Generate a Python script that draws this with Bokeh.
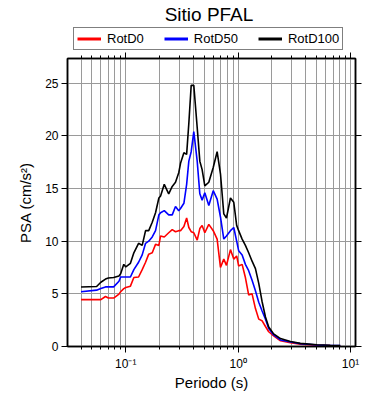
from bokeh.plotting import figure
from bokeh.layouts import column
from bokeh.models import (Range1d, LogAxis, LinearAxis, FixedTicker, Grid, Legend,
                          LegendItem, Label, CustomJSTickFormatter, ColumnDataSource)
from bokeh.embed import file_html
from bokeh.resources import INLINE

title_text = "Sitio PFAL"
x_label = "Periodo (s)"
y_label = "PSA (cm/s²)"
series_names = ["RotD0", "RotD50", "RotD100"]
series_colors = ["red", "blue", "black"]

periods = [0.040, 0.055, 0.060, 0.066, 0.070, 0.078, 0.087, 0.090, 0.096, 0.100,
           0.110, 0.118, 0.130, 0.140, 0.150, 0.160, 0.172, 0.184, 0.197, 0.204,
           0.220, 0.241, 0.259, 0.277, 0.296, 0.307, 0.329, 0.348, 0.364, 0.382,
           0.403, 0.432, 0.456, 0.478, 0.505, 0.548, 0.600, 0.650, 0.696, 0.745,
           0.787, 0.854, 0.914, 0.970, 1.010, 1.085, 1.160, 1.240, 1.330, 1.425,
           1.525, 1.630, 1.750, 1.870, 2.070, 2.380, 2.920, 3.570, 5.030, 6.600, 8.100]

rotd100 = [5.65, 5.7, 6.1, 6.4, 6.5, 6.55, 6.7, 6.9, 7.8, 7.55,
           7.9, 8.9, 9.8, 9.6, 11.0, 11.0, 11.8, 12.7, 14.1, 14.3,
           15.4, 14.5, 15.2, 15.6, 16.5, 17.4, 18.4, 18.25, 21.2, 24.8,
           24.8, 20.8, 17.6, 16.8, 15.25, 15.6, 17.0, 18.5, 16.4, 12.6,
           12.2, 14.1, 13.7, 11.5, 11.0, 10.2, 9.6, 8.9, 8.1, 7.4,
           6.0, 4.3, 2.8, 1.85, 1.2, 0.75, 0.47, 0.3, 0.16, 0.12, 0.1]

rotd50 = [5.2, 5.35, 5.5, 5.66, 5.66, 5.66, 6.2, 6.6, 6.6, 6.6,
          6.6, 7.3, 8.0, 8.7, 9.8, 10.0, 10.4, 11.0, 12.5, 12.7,
          12.9, 12.5, 12.5, 13.3, 12.9, 13.1, 13.6, 15.4, 17.6, 18.5,
          20.4, 17.6, 14.5, 13.9, 14.6, 13.4, 14.8, 14.0, 12.3, 10.2,
          10.5, 11.0, 11.3, 10.0, 9.1, 8.7, 7.8, 7.2, 6.3, 5.3,
          4.2, 3.4, 2.6, 1.7, 1.1, 0.62, 0.42, 0.27, 0.14, 0.1, 0.08]

rotd0 = [4.45, 4.45, 4.45, 4.75, 4.6, 4.6, 4.97, 5.2, 5.5, 5.6,
         5.73, 6.55, 6.6, 7.3, 8.0, 8.77, 8.9, 9.7, 9.6, 10.5,
         10.4, 10.8, 11.1, 10.9, 11.0, 11.0, 11.4, 12.2, 11.3, 10.9,
         10.8, 10.1, 11.2, 11.5, 10.8, 11.6, 11.0, 10.2, 7.5, 8.3,
         7.7, 9.2, 8.3, 8.6, 7.65, 7.8, 6.55, 4.9, 5.0, 3.6,
         2.6, 2.45, 1.9, 1.4, 1.0, 0.54, 0.35, 0.22, 0.12, 0.09, 0.07]

x_major = [0.1, 1, 10]
x_minor = [0.03, 0.04, 0.05, 0.06, 0.07, 0.08, 0.09,
           0.2, 0.3, 0.4, 0.5, 0.6, 0.7, 0.8, 0.9,
           2, 3, 4, 5, 6, 7, 8, 9]
y_ticks = [0, 5, 10, 15, 20, 25]

FONT = "Liberation Sans"
HEAD_H = 51
LEFT, RIGHT, FW, FH = 67, 35, 288, 288

# ---------- header: title + legend (frame coords = pixels) ----------
head = figure(frame_width=FW, frame_height=HEAD_H,
              x_range=Range1d(0, FW), y_range=Range1d(0, HEAD_H),
              x_axis_location=None, y_axis_location=None, title_location=None,
              min_border_left=LEFT, min_border_right=RIGHT, min_border_top=0, min_border_bottom=0,
              output_backend="svg", toolbar_location=None)
head.outline_line_color = None
head.grid.visible = False

head.add_layout(Label(x=141.5, y=37.5, text=title_text, text_align="center",
                      text_baseline="alphabetic", text_font=FONT, text_font_size="19px",
                      text_color="black"))

nan_src = ColumnDataSource(dict(x=[float("nan")], y=[float("nan")]))
items = []
for name, c in zip(series_names, series_colors):
    r = head.line("x", "y", source=nan_src, line_color=c, line_width=3)
    items.append(LegendItem(label=name, renderers=[r]))

legend = Legend(items=items, location=(6, 1), orientation="horizontal",
                glyph_width=24, glyph_height=13, label_height=13, label_standoff=6,
                spacing=20, padding=3, margin=0,
                border_line_color="black", border_line_width=1.5,
                background_fill_color="white", background_fill_alpha=1,
                label_text_font=FONT, label_text_font_size="13px", label_text_color="black")
head.add_layout(legend, "center")

# ---------- main plot ----------
p = figure(frame_width=FW, frame_height=FH, x_axis_type="log",
           x_range=Range1d(0.0303, 11.07), y_range=Range1d(0, 27.35),
           x_axis_location=None, y_axis_location=None, title_location=None,
           output_backend="svg", toolbar_location=None,
           min_border_left=LEFT, min_border_top=7, min_border_right=RIGHT, min_border_bottom=30,
           background_fill_color="white", border_fill_color="white")
p.outline_line_color = "black"
p.outline_line_width = 1.5

xticker = FixedTicker(ticks=x_major, minor_ticks=x_minor)
yticker = FixedTicker(ticks=y_ticks)

fmt = CustomJSTickFormatter(code="""
const e = Math.round(Math.log10(tick));
const m = {"-1": "10\u207b\u00b9", "0": "10\u2070", "1": "10\u00b9"};
return m[String(e)] || "";
""")

def style_axis(ax):
    ax.axis_line_color = "black"
    ax.axis_line_width = 1.5
    ax.major_tick_in = 0
    ax.major_tick_out = 6
    ax.minor_tick_in = 0
    ax.minor_tick_out = 3
    ax.major_tick_line_color = "black"
    ax.minor_tick_line_color = "black"
    ax.major_label_text_font = FONT
    ax.major_label_text_font_size = "12px"
    ax.major_label_text_color = "black"
    ax.axis_label_text_font = FONT
    ax.axis_label_text_font_size = "15px"
    ax.axis_label_text_font_style = "normal"
    ax.axis_label_text_color = "black"

xb = LogAxis(ticker=xticker, formatter=fmt, axis_label=x_label)
style_axis(xb)
xb.major_label_standoff = 4
xb.axis_label_standoff = 0
p.add_layout(xb, "below")

xt = LogAxis(ticker=xticker, formatter=CustomJSTickFormatter(code="return '';"))
style_axis(xt)
xt.major_label_standoff = 0
xt.major_label_text_font_size = "1px"
p.add_layout(xt, "above")

yl = LinearAxis(ticker=yticker, axis_label=y_label)
style_axis(yl)
yl.major_label_standoff = 3
yl.axis_label_standoff = 8
p.add_layout(yl, "left")

yr = LinearAxis(ticker=yticker, formatter=CustomJSTickFormatter(code="return '';"))
style_axis(yr)
yr.major_label_standoff = 0
yr.major_label_text_font_size = "1px"
p.add_layout(yr, "right")

gx = Grid(dimension=0, ticker=xticker, grid_line_color="#9a9a9a", grid_line_width=1,
          minor_grid_line_color="#9a9a9a", minor_grid_line_width=1)
gy = Grid(dimension=1, ticker=yticker, grid_line_color="#9a9a9a", grid_line_width=1)
p.add_layout(gx)
p.add_layout(gy)

src = ColumnDataSource(dict(T=periods, d0=rotd0, d50=rotd50, d100=rotd100))
for col, c in zip(["d0", "d50", "d100"], series_colors):
    p.line("T", col, source=src, line_color=c, line_width=1.6)

layout = column(head, p, spacing=0)
open("out.html", "w").write(file_html(layout, INLINE))
